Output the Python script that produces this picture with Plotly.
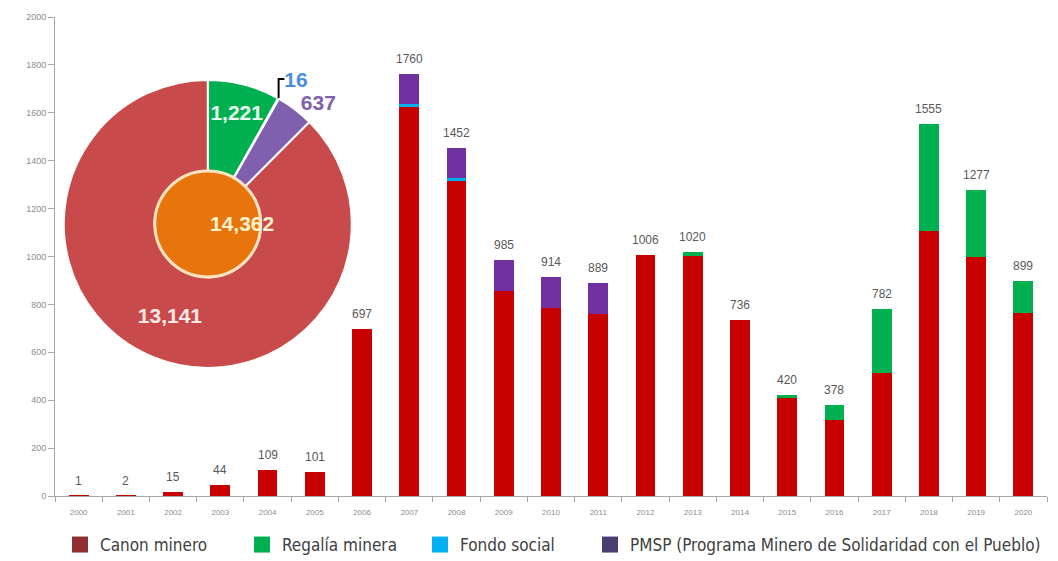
import plotly.graph_objects as go

# Annual transfers by concept (millions), 2000-2020
years = [str(y) for y in range(2000, 2021)]
canon_minero = [1, 2, 15, 44, 109, 101, 697, 1627, 1319, 855, 787, 759,
                1006, 1003, 736, 408, 316, 514, 1105, 1000, 764]
regalia_minera = [0, 0, 0, 0, 0, 0, 0, 0, 0, 0, 0, 0,
                  0, 17, 0, 12, 62, 268, 450, 277, 135]
fondo_social = [0, 0, 0, 0, 0, 0, 0, 8, 8, 0, 0, 0,
                0, 0, 0, 0, 0, 0, 0, 0, 0]
pmsp = [0, 0, 0, 0, 0, 0, 0, 125, 125, 130, 127, 130,
        0, 0, 0, 0, 0, 0, 0, 0, 0]
totales = [1, 2, 15, 44, 109, 101, 697, 1760, 1452, 985, 914, 889,
           1006, 1020, 736, 420, 378, 782, 1555, 1277, 899]

# Accumulated totals shown in the donut
pie_labels = ["Regalía minera", "Fondo social", "PMSP", "Canon minero"]
pie_values = [1221, 16, 637, 13141]
total_acumulado = "14,362"

series = [
    ("Canon minero", canon_minero, "#C80000", "#8E2E2E"),
    ("Regalía minera", regalia_minera, "#00B050", "#00B050"),
    ("Fondo social", fondo_social, "#00B0F0", "#00B0F0"),
    ("PMSP (Programa Minero de Solidaridad con el Pueblo)", pmsp, "#7030A0", "#4B3F72"),
]

fig = go.Figure()

for name, vals, color, _ in series:
    fig.add_trace(go.Bar(x=years, y=vals, name=name, marker_color=color,
                         marker_line_width=0, showlegend=False))

# Legend entries, each in its own legend box
legend_ids = ["legend", "legend2", "legend3", "legend4"]
for (name, _, _, swatch), lid in zip(series, legend_ids):
    fig.add_trace(go.Scatter(x=[years[0]], y=[None], mode="markers", name=name,
                             marker=dict(symbol="square", size=16, color=swatch),
                             legend=lid, showlegend=True, hoverinfo="skip"))

pie_cx, pie_cy = 0.154, 0.568
fig.add_trace(go.Pie(
    labels=pie_labels, values=pie_values, sort=False, direction="clockwise",
    rotation=0, hole=0.37,
    marker=dict(colors=["#00B050", "#4A8FDD", "#7F5FAE", "#C94A4A"],
                line=dict(color="white", width=2)),
    texttemplate="<b>%{value:,}</b>",
    textposition=["inside", "outside", "outside", "inside"],
    insidetextorientation="horizontal",
    textfont=dict(family="Liberation Sans, Arial, sans-serif", size=21,
                  color=["#E8FFF0", "#4A8FDD", "#7F5FAE", "#FCE8E8"]),
    domain=dict(x=[pie_cx - 144 / 992, pie_cx + 144 / 992],
                y=[pie_cy - 144 / 479, pie_cy + 144 / 479]),
    showlegend=False, hoverinfo="label+value",
))

# Centre disc with the accumulated total
fig.add_shape(type="circle", xref="paper", yref="paper",
              xsizemode="pixel", ysizemode="pixel",
              xanchor=pie_cx, yanchor=pie_cy,
              x0=-53, x1=53, y0=-53, y1=53,
              fillcolor="#E8740C", line=dict(color="#FCE4C0", width=3),
              layer="above")
fig.add_annotation(x=pie_cx, y=pie_cy, xref="paper", yref="paper",
                   text="<b>" + total_acumulado + "</b>", showarrow=False,
                   font=dict(family="Liberation Sans, Arial, sans-serif", size=21,
                             color="#FFF2CC"))

# Totals above each bar (x given as category index)
for i, tot in enumerate(totales):
    fig.add_annotation(x=i, y=tot, xref="x", yref="y", text=str(tot),
                       showarrow=False, yanchor="bottom", yshift=6,
                       font=dict(family="Liberation Sans, Arial, sans-serif",
                                 size=12, color="#595959"))

legend_font = dict(family="Liberation Sans Narrow, DejaVu Sans Condensed, sans-serif",
                   size=17, color="#404040")
legend_px = [60, 242, 420, 590]
legend_common = dict(orientation="h", xref="container", yref="container",
                     yanchor="middle", y=(561 - 545) / 561, xanchor="left",
                     bgcolor="rgba(0,0,0,0)", font=legend_font)

fig.update_layout(
    width=1058, height=561,
    margin=dict(l=55, r=11, t=17, b=65, autoexpand=False),
    paper_bgcolor="white", plot_bgcolor="white",
    barmode="stack", bargap=0.58,
    legend=dict(x=legend_px[0] / 1058, **legend_common),
    legend2=dict(x=legend_px[1] / 1058, **legend_common),
    legend3=dict(x=legend_px[2] / 1058, **legend_common),
    legend4=dict(x=legend_px[3] / 1058, **legend_common),
    xaxis=dict(type="category", categoryorder="array", categoryarray=years,
               range=[-0.5, len(years) - 0.5], autorange=False, automargin=False,
               showline=True, linecolor="#A6A6A6", linewidth=1,
               ticks="outside", tickson="boundaries", ticklen=5, tickcolor="#A6A6A6",
               ticklabelstandoff=8,
               tickfont=dict(family="Liberation Sans, Arial, sans-serif", size=8,
                             color="#8C8C8C"),
               showgrid=False, zeroline=False),
    yaxis=dict(range=[0, 2000], autorange=False, automargin=False, dtick=200,
               showline=True, linecolor="#A6A6A6",
               linewidth=1, ticks="outside", ticklen=6, tickcolor="#A6A6A6",
               tickfont=dict(family="Liberation Sans, Arial, sans-serif", size=9,
                             color="#8C8C8C"),
               showgrid=False, zeroline=False),
)

fig.write_html("out.html")
